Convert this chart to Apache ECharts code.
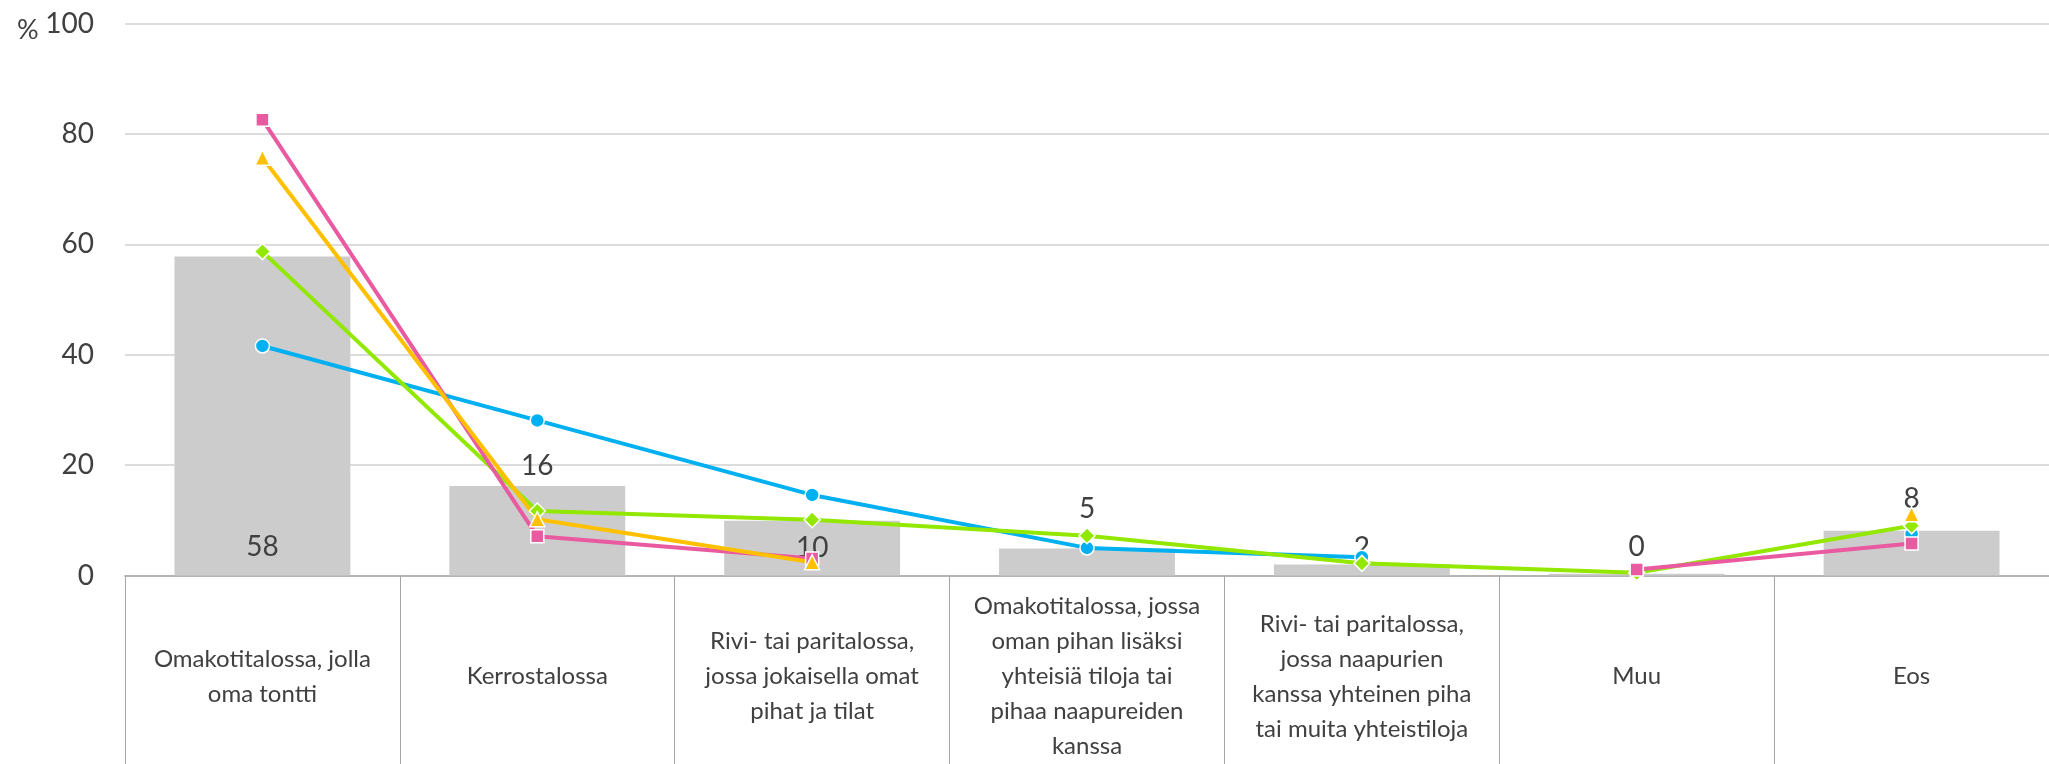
<!DOCTYPE html>
<html>
<head>
<meta charset="utf-8">
<script src="https://cdn.jsdelivr.net/npm/echarts@6/dist/echarts.min.js"></script>
<style>
  html, body { margin: 0; padding: 0; background: #fff; }
  #main { width: 2049px; height: 764px; }
</style>
</head>
<body>
<div id="main"></div>
<script>
// categories (x axis)
var categories = [
  'Omakotitalossa, jolla\noma tontti',
  'Kerrostalossa',
  'Rivi- tai paritalossa,\njossa jokaisella omat\npihat ja tilat',
  'Omakotitalossa, jossa\noman pihan lisäksi\nyhteisiä tiloja tai\npihaa naapureiden\nkanssa',
  'Rivi- tai paritalossa,\njossa naapurien\nkanssa yhteinen piha\ntai muita yhteistiloja',
  'Muu',
  'Eos'
];
// y axis ticks
var yTicks = [0, 20, 40, 60, 80, 100];

// bars (all respondents)
var barValues = [57.8, 16.2, 9.9, 4.9, 2.0, 0.3, 8.1];
// lines
var blueValues = [41.6, 28.1, 14.6, 5.0, 3.3, null, 7.5];
var greenValues = [58.7, 11.7, 10.1, 7.2, 2.2, 0.5, 9.0];
var pinkValues = [82.6, 7.1, 3.1, null, null, 1.1, 5.8];
var orangeValues = [75.7, 10.2, 2.4, null, null, null, 11.1];

// where each bar label sits (style only)
var barLabelPlace = [
  { position: 'insideBottom', distance: 15 },
  { position: 'top', distance: 6 },
  { position: 'insideBottom', distance: 14 },
  { position: 'top', distance: 25 },
  { position: 'insideBottom', distance: 14 },
  { position: 'insideBottom', distance: 15 },
  { position: 'top', distance: 18 }
];

var FONT = 'Lato';
var TXT = '#404040';

function lineSeries(name, data, color, symbol, size) {
  return {
    name: name,
    type: 'line',
    data: data,
    connectNulls: false,
    symbol: symbol,
    symbolSize: size,
    showAllSymbol: true,
    lineStyle: { color: color, width: 4 },
    itemStyle: { color: color, borderColor: '#fff', borderWidth: 1.5 },
    emphasis: { disabled: true },
    z: 3
  };
}

var myChart = echarts.init(document.getElementById('main'));

var option = {
  animation: false,
  title: {
    text: '%',
    left: 12,
    top: 12,
    textStyle: { color: TXT, fontFamily: FONT, fontSize: 27, fontWeight: 'normal' }
  },
  grid: {
    left: 125,
    right: 0,
    top: 23.7,
    bottom: 184,
    containLabel: false
  },
  xAxis: {
    type: 'category',
    data: categories,
    boundaryGap: true,
    axisLine: { lineStyle: { color: '#a6a6a6', width: 1.5 } },
    axisTick: { show: true, length: 200, lineStyle: { color: '#a6a6a6', width: 1 } },
    axisLabel: {
      interval: 0,
      margin: 101,
      verticalAlign: 'middle',
      color: TXT,
      fontFamily: FONT,
      fontSize: 24,
      lineHeight: 35
    },
    splitLine: { show: false }
  },
  yAxis: {
    type: 'value',
    min: yTicks[0],
    max: yTicks[yTicks.length - 1],
    interval: yTicks[1] - yTicks[0],
    axisLine: { show: false },
    axisTick: { show: false },
    axisLabel: {
      margin: 31,
      color: TXT,
      fontFamily: FONT,
      fontSize: 28
    },
    splitLine: { lineStyle: { color: '#d0d0d0', width: 1.5 } }
  },
  series: [
    {
      name: 'Kaikki',
      type: 'bar',
      barCategoryGap: '36%',
      data: barValues.map(function (v, i) {
        return {
          value: v,
          label: {
            show: true,
            position: barLabelPlace[i].position,
            distance: barLabelPlace[i].distance
          }
        };
      }),
      itemStyle: { color: '#cccccc' },
      label: {
        color: TXT,
        fontFamily: FONT,
        fontSize: 28,
        formatter: function (p) { return Math.round(p.value); }
      },
      emphasis: { disabled: true },
      z: 2
    },
    lineSeries('Sininen', blueValues, '#00b0f0', 'circle', 14),
    lineSeries('Vihreä', greenValues, '#92e800', 'diamond', 16),
    lineSeries('Pinkki', pinkValues, '#ea5aa0', 'rect', 13),
    lineSeries('Oranssi', orangeValues, '#ffc000', 'triangle', 15)
  ]
};

myChart.setOption(option);
</script>
</body>
</html>
